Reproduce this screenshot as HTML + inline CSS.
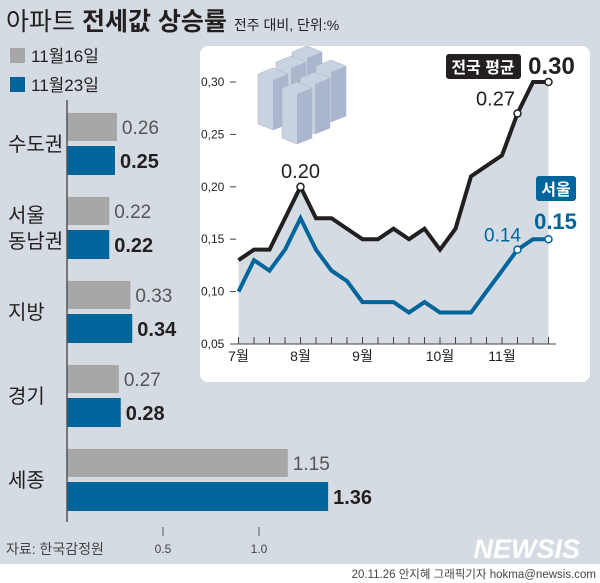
<!DOCTYPE html>
<html><head><meta charset="utf-8"><style>
body{margin:0;width:600px;height:583px;overflow:hidden;background:#d5dbe2;font-family:"Liberation Sans","Noto Sans CJK KR",sans-serif;}
svg{display:block}
</style></head><body>
<svg width="600" height="583" xmlns="http://www.w3.org/2000/svg" font-family="Liberation Sans, Noto Sans CJK KR, sans-serif">
<rect x="0" y="0" width="600" height="583" fill="#d5dbe2"/>
<rect x="0" y="564" width="600" height="19" fill="#ffffff"/>
<text x="6" y="30" font-size="25" fill="#231f20">아파트 <tspan font-weight="bold">전세값 상승률</tspan> <tspan font-size="14">전주 대비, 단위:%</tspan></text>
<rect x="10" y="48" width="15" height="15" fill="#a7a7a7"/>
<text x="31" y="62" font-size="17" fill="#231f20">11월16일</text>
<rect x="10" y="77" width="15" height="15" fill="#00659a"/>
<text x="31" y="91" font-size="17" fill="#231f20">11월23일</text>
<g id="bars"></g>
<text x="6" y="554" font-size="14" fill="#444">자료: 한국감정원</text>
<text x="596" y="578" font-size="11.5" fill="#444" text-anchor="end">20.11.26 안지혜 그래픽기자 hokma@newsis.com</text>
<text x="580" y="558" font-size="27" font-weight="bold" font-style="italic" fill="#ffffff" text-anchor="end">NEWSIS</text>
<rect x="200" y="46" width="390" height="336" rx="8" fill="#ffffff"/>
<g id="line"></g>
</svg>
<script>
const barCats=[["수도권"],["서울","동남권"],["지방"],["경기"],["세종"]];
const nov16=[0.26,0.22,0.33,0.27,1.15];
const nov23=[0.25,0.22,0.34,0.28,1.36];
const barTicks=[0.5,1.0];

const nationalVals=[0.13,0.14,0.14,0.17,0.20,0.17,0.17,0.16,0.15,0.15,0.16,0.15,0.16,0.14,0.16,0.21,0.22,0.23,0.27,0.30,0.30];
const seoulVals=[0.10,0.13,0.12,0.14,0.17,0.14,0.12,0.11,0.09,0.09,0.09,0.08,0.09,0.08,0.08,0.08,0.10,0.12,0.14,0.15,0.15];
const monthIdx=[0,4,8,13,17];
const monthLabels=["7월","8월","9월","10월","11월"];
const yTicks=[0.05,0.10,0.15,0.20,0.25,0.30];

const NS="http://www.w3.org/2000/svg";
function mk(tag,attrs,parent,text){const e=document.createElementNS(NS,tag);for(const k in attrs)e.setAttribute(k,attrs[k]);if(text!==undefined)e.textContent=text;parent.appendChild(e);return e;}

// bar chart
const bg=document.getElementById('bars');
const bx=v=>67+v*192;
const groupY=i=>113+i*84;
nov16.forEach((v,i)=>{
  const y=groupY(i);
  const r1=mk('rect',{x:bx(0),y:y,width:bx(v)-bx(0),height:28,fill:'#a7a7a7'},bg);
  
  
  const t1=mk('text',{x:bx(v)+5,y:y+21,'font-size':19,fill:'#555'},bg,v.toFixed(2));
  
  
  const w=nov23[i];
  const r2=mk('rect',{x:bx(0),y:y+33,width:bx(w)-bx(0),height:29,fill:'#00659a'},bg);
  
  
  const t2=mk('text',{x:bx(w)+5,y:y+55,'font-size':20,'font-weight':'bold',fill:'#231f20'},bg,w.toFixed(2));
  
  
  const lines=barCats[i];
  lines.forEach((l,j)=>{
    const cy=y+31+(j-(lines.length-1)/2)*26+7;
    const t=mk('text',{x:8,y:cy,'font-size':20,fill:'#231f20'},bg,l);
    
    
  });
});
const ax=mk('line',{x1:bx(0),y1:100,x2:bx(0),y2:522,stroke:'#555','stroke-width':1.5},bg);


barTicks.forEach(t=>{
  const l=mk('line',{x1:bx(t),y1:527,x2:bx(t),y2:536,stroke:'#555'},bg);
  
  
  const tx=mk('text',{x:bx(t),y:553,'font-size':12,fill:'#444','text-anchor':'middle'},bg,t.toFixed(1));
  
  
});

// line chart
const lg=document.getElementById('line');
const lx=i=>238.5+i*15.5;
const ly=v=>344-(v-0.05)/0.05*52.4;
// area fill
let area='M'+lx(0)+','+ly(0.05);
nationalVals.forEach((v,i)=>area+=' L'+lx(i)+','+ly(v));
area+=' L'+lx(nationalVals.length-1)+','+ly(0.05)+' Z';
const ar=mk('path',{d:area,fill:'#d5dbe3'},lg);


yTicks.forEach(t=>{
  const l=mk('line',{x1:230,y1:ly(t),x2:236,y2:ly(t),stroke:'#444'},lg);
  
  
  const tx=mk('text',{x:201,y:ly(t)+4,'font-size':12,fill:'#231f20'},lg,t.toFixed(2).replace('.',','));
  
  
});
const xa=mk('line',{x1:230,y1:344,x2:556,y2:344,stroke:'#444'},lg);


nationalVals.forEach((v,i)=>{
  const l=mk('line',{x1:lx(i),y1:337,x2:lx(i),y2:344,stroke:'#444'},lg);
  
  
});
monthIdx.forEach((m,k)=>{
  const t=mk('text',{x:lx(m),y:361,'font-size':14,fill:'#231f20','text-anchor':'middle'},lg,monthLabels[k]);
  
  
});
function series(vals,color,name){
  const p=mk('polyline',{points:vals.map((v,i)=>lx(i)+','+ly(v)).join(' '),fill:'none',stroke:color,'stroke-width':4,'stroke-linejoin':'miter'},lg);
  
  
}
series(nationalVals,'#231f20','national-line');
series(seoulVals,'#00659a','seoul-line');
function dot(i,vals,color,name){
  const c=mk('circle',{cx:lx(i),cy:ly(vals[i]),r:3.5,fill:'#fff',stroke:color,'stroke-width':1.5},lg);
  
  
}
dot(4,nationalVals,'#231f20','national-point-aug');
dot(18,nationalVals,'#231f20','national-point-nov16');
dot(20,nationalVals,'#231f20','national-point-nov23');
dot(18,seoulVals,'#00659a','seoul-point-nov16');
dot(20,seoulVals,'#00659a','seoul-point-nov23');
function lbl(x,y,txt,size,color,weight,name){
  const t=mk('text',{x:x,y:y,'font-size':size,fill:color,'font-weight':weight,'text-anchor':'middle'},lg,txt);
  
  
}
lbl(lx(4),ly(0.20)-9,nationalVals[4].toFixed(2),20,'#231f20','normal','label-aug-peak');
lbl(lx(18)-22,ly(0.27)-8,nationalVals[18].toFixed(2),20,'#231f20','normal','label-national-nov16');
lbl(lx(20)+3,ly(0.30)-8,nationalVals[20].toFixed(2),24,'#231f20','bold','label-national-nov23');
lbl(lx(18)-15,ly(0.14)-8,seoulVals[18].toFixed(2),19,'#00659a','normal','label-seoul-nov16');
lbl(lx(20)+7,ly(0.15)-10,seoulVals[20].toFixed(2),22,'#00659a','bold','label-seoul-nov23');
const nb=mk('rect',{x:446,y:54,width:75,height:25,rx:3,fill:'#231f20'},lg);


lbl(483,73,'전국 평균',16,'#fff','bold','national-legend-label');
const sb=mk('rect',{x:536,y:176,width:40,height:25,rx:3,fill:'#00659a'},lg);


lbl(556,195,'서울',16,'#fff','bold','seoul-legend-label');
// buildings icon
const bi=mk('g',{},lg);


[[292,52],[276,62],[316,66],[258,74],[300,78],[282,88]].forEach(([x,y])=>{
  mk('polygon',{points:`${x},${y} ${x+15},${y-6} ${x+30},${y} ${x+30},${y+50} ${x+15},${y+56} ${x},${y+50}`,fill:'#c9d2e0',stroke:'#aab4c6','stroke-width':0.5},bi);
  mk('polygon',{points:`${x+15},${y+6} ${x+30},${y} ${x+30},${y+50} ${x+15},${y+56}`,fill:'#a9b6cb'},bi);
});
</script>
</body></html>
